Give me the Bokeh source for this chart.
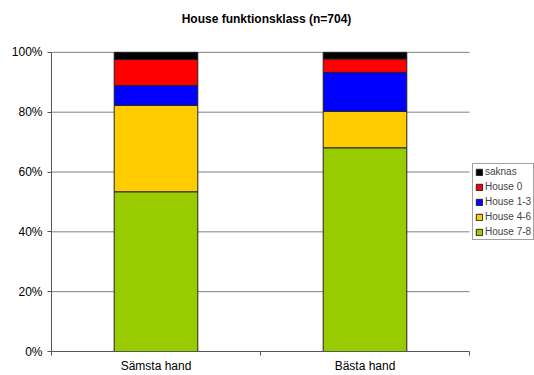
from bokeh.plotting import figure
from bokeh.models import (ColumnDataSource, FixedTicker, PrintfTickFormatter,
                          Legend, LegendItem, Range1d, Label)
from bokeh.embed import file_html
from bokeh.resources import INLINE

# Share of patients per House functional class, worst vs best hand (percent)
categories = ["Sämsta hand", "Bästa hand"]
house_7_8 = [53.4, 68.1]
house_4_6 = [28.9, 12.2]
house_1_3 = [6.6, 13.0]
house_0 = [8.7, 4.5]
saknas = [2.4, 2.2]

series_names = ["House 7-8", "House 4-6", "House 1-3", "House 0", "saknas"]
series_values = [house_7_8, house_4_6, house_1_3, house_0, saknas]
colors = ["#99CC00", "#FFCC00", "#0000FF", "#FF0000", "#000000"]
y_ticks = [0, 20, 40, 60, 80, 100]

keys = ["s%d" % i for i in range(len(series_names))]
n_cat = len(categories)
data = {"x": [i + 0.5 for i in range(n_cat)]}
for k, vals in zip(keys, series_values):
    data[k] = vals
source = ColumnDataSource(data)

# Canvas layout (pixels): plot area 418 x 300 placed 51 px from the left;
# the frame spans to the canvas' right and top edges so the legend and the
# title can sit beside / above the plot area.
W, H = 534, 375
left, bottom_pad = 51, 23
plot_w, plot_h = 418, 300
frame_w, frame_h = W - left, H - bottom_pad
x_end = n_cat * frame_w / plot_w
y_end = 100 * frame_h / plot_h

p = figure(width=W, height=H, output_backend="svg", toolbar_location=None,
           x_range=Range1d(0, x_end), y_range=Range1d(0, y_end),
           min_border_left=left, min_border_right=0, min_border_top=0,
           min_border_bottom=bottom_pad)
p.outline_line_color = None
p.background_fill_color = "white"
p.border_fill_color = "white"

# Horizontal grid lines across the plot area only
p.segment(x0=[0] * (len(y_ticks) - 1), x1=[n_cat] * (len(y_ticks) - 1),
          y0=y_ticks[1:], y1=y_ticks[1:], line_color="#808080", line_width=1)

renderers = p.vbar_stack(keys, x="x", width=0.4, source=source, fill_color=colors,
                         line_color="#222222", line_width=1)

# Y axis
p.yaxis.bounds = (0, 100)
p.yaxis.ticker = FixedTicker(ticks=y_ticks)
p.yaxis.formatter = PrintfTickFormatter(format="%d%%")
p.yaxis.major_tick_out = 4
p.yaxis.major_tick_in = 0
p.yaxis.minor_tick_line_color = None
p.yaxis.major_label_standoff = 5
p.yaxis.axis_line_color = "#555555"
p.yaxis.major_tick_line_color = "#555555"

# X axis: labels centred under the bars, ticks between categories
p.xaxis.bounds = (0, n_cat)
p.xaxis.ticker = FixedTicker(ticks=data["x"], minor_ticks=list(range(n_cat + 1)))
p.xaxis.major_label_overrides = {x: c for x, c in zip(data["x"], categories)}
p.xaxis.major_tick_out = 0
p.xaxis.major_tick_in = 0
p.xaxis.minor_tick_out = 4
p.xaxis.minor_tick_in = 0
p.xaxis.major_label_standoff = 3
p.xaxis.axis_line_color = "#555555"
p.xaxis.minor_tick_line_color = "#555555"

for ax in (p.xaxis, p.yaxis):
    ax.major_label_text_font = "Liberation Sans"
    ax.major_label_text_font_size = "12px"
    ax.major_label_text_color = "black"

p.xgrid.grid_line_color = None
p.ygrid.grid_line_color = None

# Title
p.add_layout(Label(x=215, y=frame_h - 19, x_units="screen", y_units="screen",
                   text="House funktionsklass (n=704)", text_align="center",
                   text_baseline="middle", text_font="Liberation Sans",
                   text_font_size="12px", text_font_style="bold",
                   text_color="black"))

# Legend to the right of the plot area, top entry first
items = [LegendItem(label=name, renderers=[r])
         for name, r in zip(series_names, renderers)][::-1]
legend = Legend(items=items, location=(421, frame_h - 241), orientation="vertical")
legend.glyph_width = 8
legend.glyph_height = 8
legend.label_text_font = "Liberation Sans"
legend.label_text_font_size = "10px"
legend.label_standoff = 2
legend.label_height = 11
legend.spacing = 4
legend.padding = 2
legend.margin = 0
legend.border_line_color = "#444444"
legend.border_line_width = 1
legend.background_fill_alpha = 1
p.add_layout(legend, "center")

open("out.html", "w").write(file_html(p, INLINE))
